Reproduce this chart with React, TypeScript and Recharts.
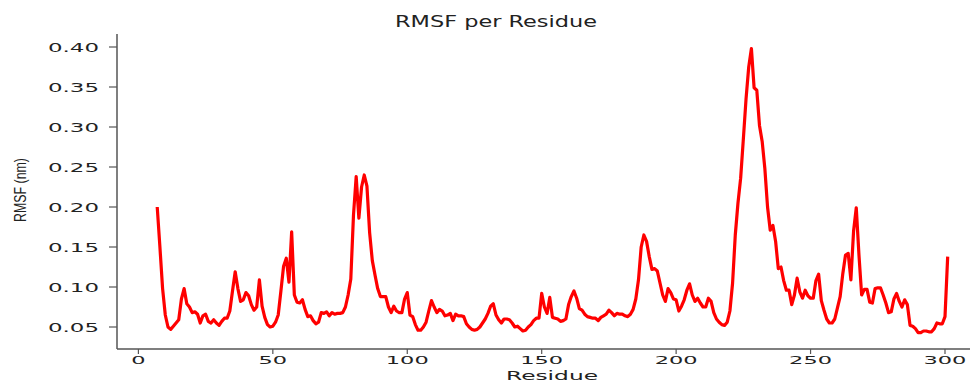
import React from 'react';
import { LineChart, Line, XAxis, YAxis } from 'recharts';

// RMSF per residue (residues 7..301)
const firstResidue = 7;
const rmsf = [
  0.200, 0.150, 0.098, 0.065, 0.050, 0.047, 0.051, 0.055, 0.059, 0.085,
  0.098, 0.079, 0.075, 0.068, 0.069, 0.066, 0.055, 0.064, 0.066, 0.057,
  0.055, 0.059, 0.055, 0.052, 0.057, 0.061, 0.061, 0.070, 0.095, 0.119,
  0.098, 0.082, 0.084, 0.093, 0.089, 0.078, 0.071, 0.075, 0.109, 0.076,
  0.062, 0.053, 0.050, 0.051, 0.056, 0.065, 0.095, 0.126, 0.136, 0.106,
  0.169, 0.090, 0.081, 0.080, 0.084, 0.072, 0.063, 0.064, 0.058, 0.054,
  0.056, 0.068, 0.067, 0.069, 0.064, 0.068, 0.066, 0.067, 0.067, 0.068,
  0.075, 0.090, 0.110, 0.190, 0.238, 0.186, 0.225, 0.240, 0.226, 0.168,
  0.133, 0.115, 0.098, 0.088, 0.088, 0.088, 0.075, 0.068, 0.076, 0.070,
  0.068, 0.068, 0.085, 0.093, 0.065, 0.063, 0.053, 0.046, 0.046, 0.050,
  0.056, 0.070, 0.083, 0.075, 0.068, 0.072, 0.070, 0.064, 0.065, 0.067,
  0.058, 0.066, 0.064, 0.064, 0.063, 0.054, 0.050, 0.047, 0.046, 0.047,
  0.050, 0.055, 0.060, 0.067, 0.076, 0.079, 0.065, 0.059, 0.055, 0.060,
  0.060, 0.059, 0.055, 0.050, 0.051, 0.048, 0.045, 0.046, 0.050, 0.053,
  0.058, 0.061, 0.061, 0.092, 0.075, 0.067, 0.087, 0.062, 0.061, 0.060,
  0.057, 0.058, 0.060, 0.078, 0.088, 0.095, 0.086, 0.073, 0.071, 0.066,
  0.063, 0.062, 0.061, 0.061, 0.058, 0.062, 0.064, 0.066, 0.071, 0.068,
  0.064, 0.067, 0.066, 0.066, 0.064, 0.063, 0.066, 0.072, 0.085, 0.109,
  0.150, 0.165, 0.157, 0.138, 0.122, 0.123, 0.120, 0.105, 0.090, 0.082,
  0.098, 0.093, 0.085, 0.084, 0.070, 0.076, 0.084, 0.096, 0.104, 0.090,
  0.082, 0.086, 0.080, 0.075, 0.075, 0.086, 0.082, 0.068, 0.060, 0.056,
  0.053, 0.052, 0.056, 0.070, 0.105, 0.165, 0.205, 0.236, 0.285, 0.335,
  0.375, 0.398, 0.349, 0.346, 0.302, 0.282, 0.248, 0.200, 0.171, 0.177,
  0.157, 0.123, 0.125, 0.108, 0.096, 0.096, 0.078, 0.090, 0.111, 0.094,
  0.086, 0.096, 0.089, 0.086, 0.086, 0.108, 0.116, 0.083, 0.071, 0.060,
  0.055, 0.055, 0.060, 0.074, 0.088, 0.117, 0.140, 0.142, 0.109, 0.170,
  0.199, 0.140, 0.090, 0.097, 0.097, 0.081, 0.080, 0.098, 0.099, 0.099,
  0.090, 0.080, 0.068, 0.069, 0.085, 0.092, 0.082, 0.075, 0.084, 0.078,
  0.052, 0.051, 0.048, 0.043, 0.043, 0.045, 0.045, 0.044, 0.044, 0.048,
  0.055, 0.054, 0.054, 0.063, 0.138,
];

const xTicks = [0, 50, 100, 150, 200, 250, 300];
const yTicks = [0.05, 0.1, 0.15, 0.2, 0.25, 0.3, 0.35, 0.4];

const data = rmsf.map((v, i) => ({ residue: firstResidue + i, rmsf: v }));

const tickFont = '"DejaVu Sans", sans-serif';
const spine = '#555';

const YTick = ({ y, payload }: any) => (
  <text
    x={99}
    y={y}
    dy={4.5}
    textAnchor="end"
    fontFamily={tickFont}
    fontSize={13}
    fill="#222"
    textLength={51}
    lengthAdjust="spacingAndGlyphs"
  >
    {payload.value.toFixed(2)}
  </text>
);

const XTick = ({ x, payload }: any) => {
  const label = String(payload.value);
  return (
    <text
      x={x}
      y={364}
      textAnchor="middle"
      fontFamily={tickFont}
      fontSize={11}
      fill="#222"
      textLength={label.length * 14.3}
      lengthAdjust="spacingAndGlyphs"
    >
      {label}
    </text>
  );
};

export default function App() {
  return (
    <div style={{ position: 'absolute', left: 0, top: 0, width: 974, height: 382, background: '#fff' }}>
      <LineChart
        width={974}
        height={382}
        data={data}
        margin={{ top: 34, right: 4, bottom: 0, left: 0 }}
      >
        <XAxis
          dataKey="residue"
          type="number"
          domain={[-7.96, 309.3]}
          allowDataOverflow
          ticks={xTicks}
          tick={<XTick />}
          tickSize={5}
          height={33}
          axisLine={{ stroke: spine, strokeWidth: 1.5 }}
          tickLine={{ stroke: spine, strokeWidth: 1.2 }}
        />
        <XAxis
          xAxisId="top"
          orientation="top"
          dataKey="residue"
          type="number"
          domain={[-7.96, 309.3]}
          tick={false}
          tickLine={false}
          height={0}
          axisLine={{ stroke: spine, strokeWidth: 1.5 }}
        />
        <YAxis
          type="number"
          domain={[0.0225, 0.41625]}
          allowDataOverflow
          ticks={yTicks}
          tick={<YTick />}
          tickSize={8}
          width={117}
          axisLine={{ stroke: spine, strokeWidth: 1.5 }}
          tickLine={{ stroke: spine, strokeWidth: 1.2 }}
        />
        <Line
          dataKey="rmsf"
          type="linear"
          stroke="#ff0000"
          strokeWidth={3.2}
          strokeLinejoin="round"
          dot={false}
          activeDot={false}
          isAnimationActive={false}
        />
      </LineChart>
      <svg
        width={974}
        height={382}
        style={{ position: 'absolute', left: 0, top: 0, pointerEvents: 'none' }}
      >
        <text
          x={496}
          y={27}
          textAnchor="middle"
          fontFamily={tickFont}
          fontSize={15}
          fill="#222"
          textLength={202}
          lengthAdjust="spacingAndGlyphs"
        >
          RMSF per Residue
        </text>
        <text
          x={552}
          y={380}
          textAnchor="middle"
          fontFamily={tickFont}
          fontSize={12.5}
          fill="#222"
          textLength={92}
          lengthAdjust="spacingAndGlyphs"
        >
          Residue
        </text>
        <text
          transform="translate(26,190) rotate(-90)"
          textAnchor="middle"
          fontFamily='"Liberation Sans", sans-serif'
          fontSize={16}
          fill="#222"
          textLength={64}
          lengthAdjust="spacingAndGlyphs"
        >
          RMSF (nm)
        </text>
      </svg>
    </div>
  );
}
